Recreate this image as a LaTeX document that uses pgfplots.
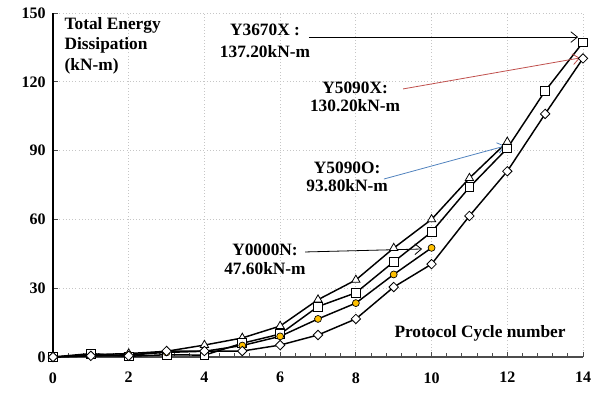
\documentclass[border=0pt]{standalone}
\usepackage{fontspec}
\setmainfont{Liberation Serif}
\usepackage{pgfplots}
\pgfplotsset{compat=1.18}
\usetikzlibrary{arrows.meta}
\definecolor{myred}{RGB}{192,80,77}
\definecolor{myblue}{RGB}{79,129,189}
\definecolor{myorange}{RGB}{255,192,0}
\begin{document}
\begin{tikzpicture}
\begin{axis}[
  scale only axis,
  width=397.5pt, height=258pt,
  xmin=0, xmax=14, ymin=0, ymax=150,
  xtick={0,2,...,14}, ytick={0,30,...,150},
  minor x tick num=4,
  axis x line=bottom, axis y line=left,
  axis line style={-},
  x axis line style={black!70, line width=0.8pt},
  y axis line style={black, line width=1.4pt},
  grid=major,
  major grid style={gray!45, dotted, line width=0.6pt},
  tick style={black!70, line width=0.6pt},
  major tick length=4pt, minor tick length=3pt,
  tick align=inside,
  /pgf/number format/assume math mode=true,
  ticklabel style={font=\fontsize{12}{14}\selectfont\bfseries},
  xticklabel style={yshift=-8pt},
  yticklabel style={xshift=-2pt},
  clip=false,
]
\addplot[black, line width=1.1pt, mark=triangle*, mark size=3.6pt, mark options={fill=white, line width=0.6pt}] coordinates {
(0,0) (1,1) (2,1.5) (3,2.5) (4,5.2) (5,8.3) (6,13.5) (7,25) (8,33.6) (9,47.5) (10,60) (11,78) (12,93.8)};
\addplot[black, line width=1.1pt, mark=square*, mark size=3.3pt, mark options={fill=white, line width=0.6pt}] coordinates {
(0,0) (1,1.5) (2,0.3) (3,1) (4,0.8) (5,6) (6,10) (7,22) (8,28) (9,41.5) (10,54.5) (11,74) (12,91) (13,116) (14,137.2)};
\addplot[black, line width=1.1pt, mark=*, mark size=2.6pt, mark options={fill=myorange, line width=0.5pt}] coordinates {
(0,0) (1,0.5) (2,1) (3,2) (4,2.5) (5,5) (6,9) (7,16.6) (8,23.5) (9,36) (10,47.6)};
\addplot[black, line width=1.1pt, mark=square*, mark size=2.5pt, mark options={fill=white, rotate=45, line width=0.6pt}] coordinates {
(0,0) (1,0.5) (2,0.5) (3,2.6) (4,2.6) (5,2.6) (6,5.2) (7,9.6) (8,16.6) (9,30.5) (10,40.5) (11,61.5) (12,81) (13,106) (14,130.2)};

\node[anchor=north west, align=left, inner sep=0pt, font=\fontsize{13}{15.4}\selectfont\bfseries] at (axis cs:0.3,148.3) {Total Energy\\Dissipation\\(kN-m)};
\node[align=center, inner sep=0pt, font=\fontsize{13}{16}\selectfont\bfseries] at (axis cs:5.6,137.8) {Y3670X :\\137.20kN-m};
\node[align=center, inner sep=0pt, font=\fontsize{13}{14}\selectfont\bfseries] at (axis cs:7.98,113.4) {Y5090X:\\130.20kN-m};
\node[align=center, inner sep=0pt, font=\fontsize{13}{14}\selectfont\bfseries] at (axis cs:7.77,78.5) {Y5090O:\\93.80kN-m};
\node[align=center, inner sep=0pt, font=\fontsize{13}{14}\selectfont\bfseries] at (axis cs:5.6,42.7) {Y0000N:\\47.60kN-m};
\node[inner sep=0pt, font=\fontsize{13}{15}\selectfont\bfseries] at (axis cs:11.28,10.5) {Protocol Cycle number};

\draw[black, line width=0.6pt, -{Straight Barb[length=5pt,width=8pt]}] (axis cs:6.76,139.5) -- (axis cs:13.87,139.5);
\draw[myred, line width=0.6pt, -{Straight Barb[length=5pt,width=8pt]}] (axis cs:9.25,116.9) -- (axis cs:13.92,130.4);
\draw[myblue, line width=0.6pt, -{Straight Barb[length=5pt,width=8pt]}] (axis cs:8.74,77.6) -- (axis cs:11.94,92);
\draw[black, line width=0.6pt, -{Straight Barb[length=5pt,width=8pt]}] (axis cs:6.66,45.8) -- (axis cs:9.75,47.1);
\end{axis}
\pgfresetboundingbox
\path (current axis.south west) ++(-39.75pt,-30pt) coordinate (bl);
\path (current axis.north east) ++(12.75pt,9.75pt) coordinate (tr);
\useasboundingbox (bl) rectangle (tr);
\end{tikzpicture}
\end{document}
